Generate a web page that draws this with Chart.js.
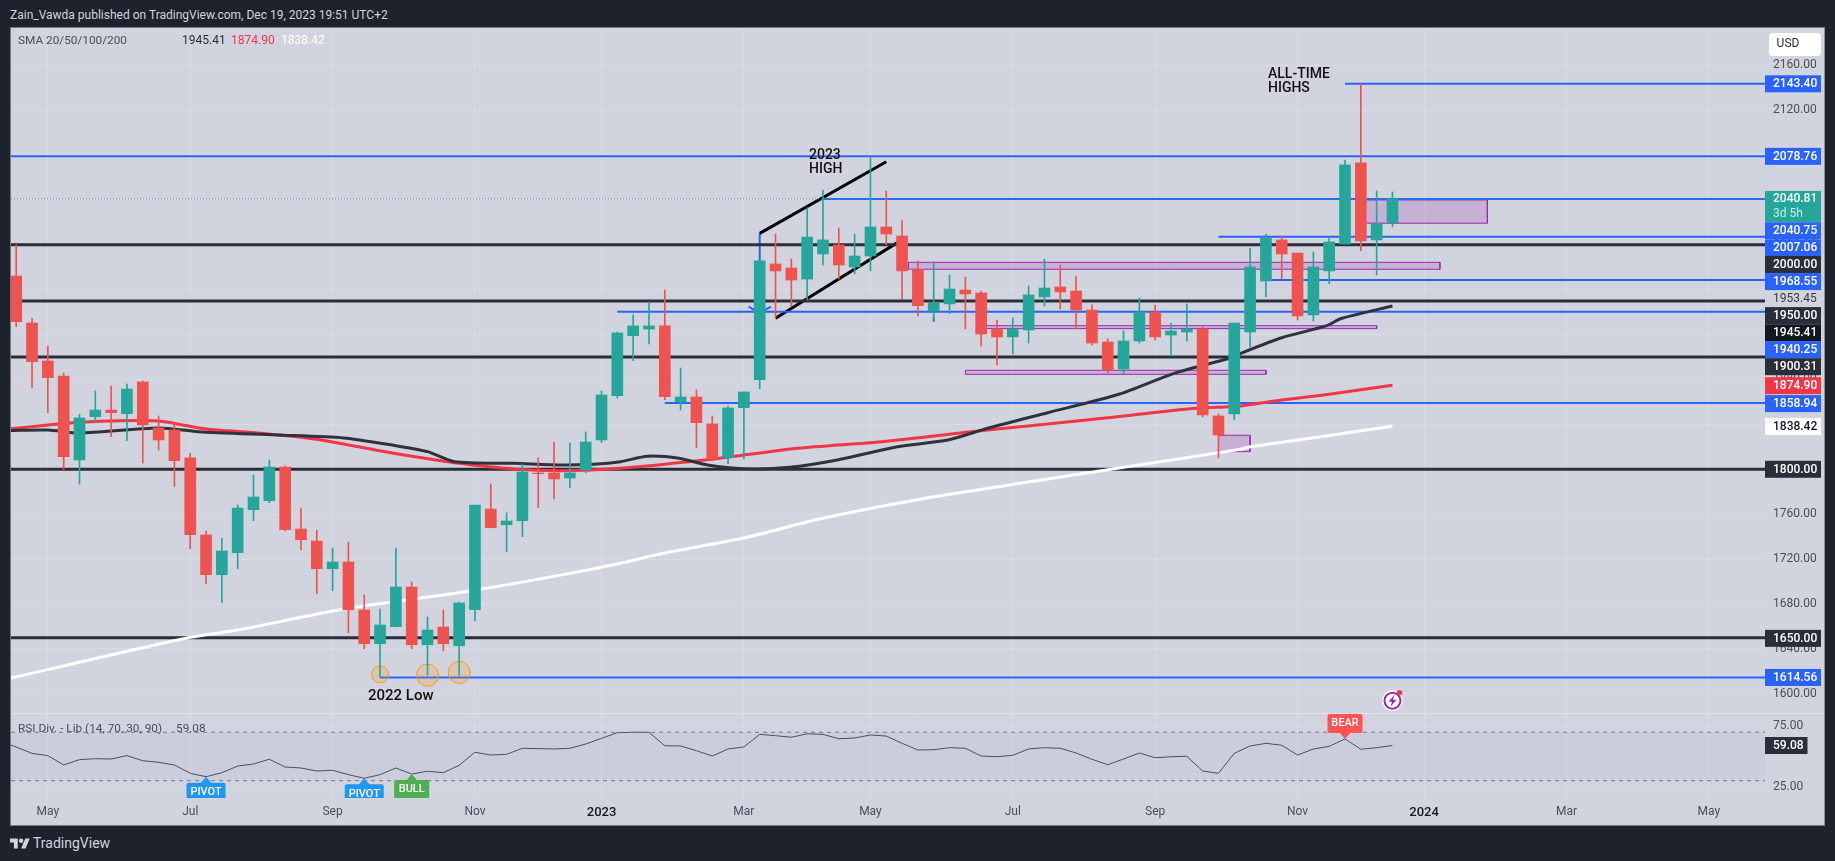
<!DOCTYPE html>
<html>
<head>
<meta charset="utf-8">
<title>Gold weekly</title>
<script src="https://cdn.jsdelivr.net/npm/chart.js@4/dist/chart.umd.js"></script>
<style>
  html, body { margin: 0; padding: 0; width: 1835px; height: 861px; overflow: hidden; background: #1e222d; }
  body { font-family: Roboto, sans-serif; color: #d1d4dc; }
  #title { position: absolute; left: 10px; top: 7px; font-size: 12px; line-height: 16px; white-space: nowrap; }
  #pane { position: absolute; left: 10px; top: 27px; width: 1815px; height: 799px; box-sizing: border-box; border: 1px solid #757883; border-right-color: #8a8d98; background: #d1d4de; }
  #mainChart { position: absolute; left: 0; top: 0; }
  #rsiChart { position: absolute; left: 0; top: 685px; }
  #logo { position: absolute; left: 10px; top: 834px; height: 18px; display: flex; align-items: center; font-size: 14px; }
  #logo svg { width: 20px; height: 15px; margin-right: 3px; fill: #d1d4dc; }
</style>
</head>
<body>
<div id="title">Zain_Vawda published on TradingView.com, Dec 19, 2023 19:51 UTC+2</div>
<div id="pane">
  <canvas id="mainChart" width="1813" height="685"></canvas>
  <canvas id="rsiChart" width="1813" height="112"></canvas>
</div>
<div id="logo"><svg viewBox="0 0 36 26"><path d="M14 22H7V11H0V4h14v18zM28 22h-8l7.5-18h8L28 22z"></path><circle cx="20" cy="8" r="4"></circle></svg>TradingView</div>

<script>
// --- WEEKLY CANDLES ---
const opens = [1972.2,1930.3,1896.5,1883.1,1808.3,1846.9,1852.8,1849.5,1877.8,1836.8,
  1835,1810.1,1741.5,1706.1,1725.7,1764,1772,1802,1746.8,1736.1,
  1711.4,1717.4,1674.7,1644.6,1659.8,1695.1,1643.7,1659.5,1642.8,1674.9,
  1764.6,1750.6,1754.2,1796.7,1796.7,1792.2,1799.6,1826.1,1865.6,1919,
  1925,1927.7,1860,1864.4,1840.4,1810.3,1854.9,1879.8,1982.9,1979.3,
  1969.5,1991.8,1999.8,1980.2,1990,2015.9,2007.8,1977.6,1941,1947.3,
  1959.7,1957.1,1925,1917.9,1924.1,1953.5,1962.4,1958.8,1941.9,1913.4,
  1889.4,1914.3,1940.1,1919.6,1922.3,1925,1847.5,1849.3,1922.3,1967.8,
  2004.3,1992.7,1937.5,1976.7,2000.7,2072.9,2004.3,2019.4];
const closes = [1931.5,1895.9,1881.6,1811.2,1845.7,1852.8,1850.4,1871.5,1839.5,1826.1,
  1807.7,1741.7,1706.1,1727.2,1765.5,1775.3,1802,1746.2,1737.3,1711.4,
  1717.4,1674.9,1644.6,1661.3,1695.1,1643.7,1656.8,1644.6,1680.9,1768.2,
  1748,1753.9,1797.6,1796.1,1791.4,1796.7,1824.3,1866.2,1921.4,1927.7,
  1927.7,1864.7,1864.4,1841.5,1809.2,1854.6,1868.9,1985.6,1976.7,1968.6,
  2006.9,2004.3,1982,1990,2015.9,2009.6,1976.7,1945.7,1948.2,1960.6,
  1956.2,1920.5,1917.9,1925,1955.3,1961.5,1958,1941.9,1912.5,1888.5,
  1914.3,1940.1,1917.9,1923.2,1925,1848.4,1830.6,1930.3,1980.2,2006,
  1991.8,1936.6,1980.2,2002.5,2071.1,2003.4,2018.5,2040.81];
const highs = [1999.8,1934.5,1909.8,1885.8,1849,1869.8,1874.2,1876,1878.7,1847.5,
  1841,1814.3,1745,1738.5,1768.2,1794.9,1808.3,1803,1765.5,1745.9,
  1729.9,1735,1688,1675.5,1729.9,1699.6,1668.4,1674.7,1681.8,1768.2,
  1786.9,1761.1,1804.7,1810.1,1824.3,1823.4,1833.2,1869.8,1922.3,1937.5,
  1949,1959.7,1890.2,1870.6,1847.5,1856.4,1868.9,1985.6,2009.6,1987.3,
  2032.8,2048.8,2015,2009.6,2078.5,2047.9,2022.1,1985.6,1983.8,1973.1,
  1971.3,1958.8,1933,1934.8,1963.3,1987.3,1982,1972.2,1946.4,1916.1,
  1923.2,1952.6,1946.4,1930.3,1947.3,1926.8,1849.3,1930.3,1996.9,2009.6,
  2007.8,1992.7,1993.6,2006.9,2075.5,2143.4,2047.9,2047];
const lows = [1927,1872.7,1850.4,1800,1786.9,1841.2,1829,1825.5,1805.6,1817.2,
  1784.5,1729.3,1698.1,1681.2,1711.4,1754.2,1770.2,1745,1728.1,1689.2,
  1691.8,1654.4,1640.2,1614.6,1659.5,1640.2,1616.7,1638.4,1616.7,1665.1,
  1747.7,1726.6,1740,1765.8,1773.5,1783.6,1797,1823.7,1863.5,1896.7,
  1911.6,1862,1852.8,1819,1807.7,1805,1809.2,1871.8,1934.8,1944.9,
  1950.8,1982,1969.5,1974,1976.7,1999.8,1951.7,1936.6,1931.5,1938.6,
  1925,1909.8,1892.9,1902.7,1912.5,1945.5,1942.8,1925,1910.7,1884.9,
  1884.9,1912.5,1915.2,1900.9,1914.3,1846.6,1810.1,1843.9,1909,1953.5,
  1969.5,1933,1932.1,1965.3,2000.7,1994.7,1973.1,2015.9];

// --- MOVING AVERAGES (bar number, price) ---
const sma50Bars = [-0.4,2,4,9,11.5,16.5,20.7,24,26,27.7,31.5,34.5,36.5,38.2,39.9,41.9,43.7,46,48.9,51.9,55.7,58.9,61.4,65.2,69.7,73.2,76.7,77.4,80,82.8,83.8,87];
const sma50Vals = [1834.6,1835,1832.3,1836.8,1833.5,1830.6,1827.9,1821,1815.7,1806.8,1805.3,1803.8,1804.5,1806.8,1811.6,1809.8,1803.8,1800.5,1801.8,1808.3,1820.1,1826.1,1836.5,1850.4,1866.8,1885.5,1898.9,1903.3,1917.2,1927.7,1934.5,1945.41];
const sma100Bars = [-0.4,2,4,6.5,9,10.2,12,15.5,19,22.7,25.2,27.7,31.5,34.5,38.2,44.2,49.4,54.7,61.4,68.7,73.9,76.7,77.4,80,83,87];
const sma100Vals = [1835.9,1839.5,1841.9,1843.3,1843,1840.4,1835.9,1832.1,1826.7,1817.2,1811.2,1805.9,1800.3,1798.8,1800.9,1809.4,1818.7,1824.6,1835,1845.4,1853.5,1855.8,1856.4,1861.7,1866.8,1874.9];
const sma200Bars = [-0.4,11,14,20.7,28.7,35,38.2,40.9,45.9,50.7,56.9,69.2,77.4,78,82.8,87];
const sma200Vals = [1613.8,1650.3,1656.8,1675.5,1691.6,1707.3,1716.3,1725.2,1738.5,1755.5,1772.7,1800,1817.8,1820.1,1829.7,1838.42];

// --- RSI, one value per bar, first one is bar 0 ---
const rsiVals = [59.5,52.6,50.7,43,47.4,48.2,47.9,50.7,46.5,45.2,43,
  36.1,33.3,36.6,42.1,43.8,47.7,41.3,40.5,38,38.6,
  35,32,35,40.5,35.5,37.8,36.6,42.7,53.5,51.2,
  51.8,56.8,56.5,56.2,56.8,60.3,65,69.7,70,70,
  58.9,58.7,54.8,50.4,56.2,57.9,68.3,67.2,65.9,68.8,
  68.3,64.7,65.3,67.8,66.9,60.9,55.4,55.6,57.3,56.8,
  50.4,49.8,51,56.2,57.3,56.8,52.9,47.7,43.2,47.9,
  52.9,49,49.8,50.2,38,36.1,52.6,58.7,60.9,59.3,
  51.2,56.2,58.4,64.5,56,57.3,59.08];

// --- LEVELS AND DRAWINGS ---
const blackLevels = [2000, 1950, 1900, 1800, 1650];
const blueLevels = [2078.76, 2143.4, 2040.75, 2007.06, 1968.55, 1940.25, 1858.94, 1614.56];
const blueStarts = [-1, 84, 51, 76, 79, 38, 41, 23];
const lastPrice = 2040.81;
const purpleBoxes = [[85, 93, 2039.9, 2019.2], [56.4, 90, 1984.4, 1978.2], [61.3, 86, 1927.9, 1925.3], [60, 79, 1888.2, 1884.6], [76, 78, 1830.3, 1815.7]];
const trendLines = [[47, 2010.2, 55, 2074], [48, 1934.5, 55.7, 2001.9]];
const lowBars = [23, 26, 28];
const lowPrices = [1617.3, 1616.5, 1619.1];

// --- AXES ---
const monthBars = [2, 11, 20, 29, 37, 46, 54, 63, 72, 81, 89, 98, 107];
const monthNames = ['May', 'Jul', 'Sep', 'Nov', '2023', 'Mar', 'May', 'Jul', 'Sep', 'Nov', '2024', 'Mar', 'May'];
const priceTicks = [2160, 2120, 2080, 2040, 2000, 1960, 1920, 1880, 1840, 1800, 1760, 1720, 1680, 1640, 1600];
const rsiTicks = [75, 25];

const GREEN = '#26a69a', RED = '#ef5350', BLUE = '#2962ff', DARK = '#2a2e39';
const X_MIN = -0.33, X_MAX = 110.55;
const FONT = 'Roboto, sans-serif';

function seg(x0, y0, x1, y1, color, width, dash) {
  return { type: 'line', data: [{ x: x0, y: y0 }, { x: x1, y: y1 }], borderColor: color, borderWidth: width, borderDash: dash || [], pointRadius: 0, order: 5 };
}
function sma(bars, vals, color) {
  return { type: 'line', data: bars.map((b, i) => ({ x: b, y: vals[i] })), borderColor: color, borderWidth: 3, pointRadius: 0, tension: 0.25, order: 4 };
}
// tick labels must not eat into the plot area
function fixY(s) { s.width = 59; s.paddingTop = 0; s.paddingBottom = 0; }
function fixX(h) { return s => { s.height = h; s.paddingLeft = 0; s.paddingRight = 0; }; }

const candleColors = closes.map((c, i) => c >= opens[i] ? GREEN : RED);
const datasets = [
  { type: 'bar', data: closes.map((c, i) => ({ x: i, y: [opens[i], c] })), backgroundColor: candleColors, barThickness: 11, borderSkipped: false, grouped: false, order: 1 },
  { type: 'bar', data: highs.map((h, i) => ({ x: i, y: [lows[i], h] })), backgroundColor: candleColors, barThickness: 1, borderSkipped: false, grouped: false, order: 2 },
  sma(sma50Bars, sma50Vals, '#2f323d'),
  sma(sma100Bars, sma100Vals, '#f23645'),
  sma(sma200Bars, sma200Vals, '#ffffff'),
  seg(X_MIN, lastPrice, X_MAX, lastPrice, GREEN, 1, [1, 2])
];
blackLevels.forEach(v => datasets.push(seg(X_MIN, v, X_MAX, v, DARK, 3)));
blueLevels.forEach((v, i) => datasets.push(seg(blueStarts[i], v, X_MAX, v, BLUE, 2)));
trendLines.forEach(t => datasets.push(seg(t[0], t[1], t[2], t[3], '#000000', 3)));
datasets.push(seg(47, 2010.2, 47, 1985.6, BLUE, 2));
datasets.push({ type: 'line', data: [{ x: 46.3, y: 1944.9 }, { x: 47, y: 1939.2 }, { x: 47.7, y: 1944.9 }], borderColor: BLUE, borderWidth: 2, pointRadius: 0, order: 5 });
datasets.push(seg(58, 1936, 58, 1931.5, BLUE, 2));
purpleBoxes.forEach(b => {
  // filled band between two lines, then the outline
  datasets.push({ type: 'line', data: [{ x: b[0], y: b[2] }, { x: b[1], y: b[2] }], borderWidth: 0, pointRadius: 0, backgroundColor: 'rgba(156,39,176,0.2)', fill: '+1', order: 6 });
  datasets.push({ type: 'line', data: [{ x: b[0], y: b[3] }, { x: b[1], y: b[3] }], borderWidth: 0, pointRadius: 0, order: 6 });
  datasets.push({ type: 'line', data: [{ x: b[0], y: b[2] }, { x: b[1], y: b[2] }, { x: b[1], y: b[3] }, { x: b[0], y: b[3] }, { x: b[0], y: b[2] }], borderColor: '#9c27b0', borderWidth: 1, pointRadius: 0, order: 6 });
});
datasets.push({
  type: 'scatter', data: lowBars.map((b, i) => ({ x: b, y: lowPrices[i] })), showLine: false,
  pointRadius: [8.5, 11, 11], pointBackgroundColor: 'rgba(255,152,0,0.2)', pointBorderColor: '#ff9800', pointBorderWidth: 1, order: 3
});

// price tags on the axis: text, price, shift when stacked, background, text colour
const priceTags = [
  ['2143.40', 2143.4, 0, BLUE, '#fff'], ['2078.76', 2078.76, 0, BLUE, '#fff'],
  ['2040.75', 2040.75, 31.7, BLUE, '#fff'], ['2007.06', 2007.06, 11, BLUE, '#fff'],
  ['2000.00', 2000, 19.7, DARK, '#fff'], ['1968.55', 1968.55, 1.5, BLUE, '#fff'],
  ['1950.00', 1950, 14.7, DARK, '#fff'], ['1945.41', 1945.41, 26.7, '#131722', '#fff'],
  ['1940.25', 1940.25, 37.8, BLUE, '#fff'], ['1900.31', 1900.31, 10, DARK, '#fff'],
  ['1874.90', 1874.9, 0.5, '#f23645', '#fff'], ['1858.94', 1858.94, 0.5, BLUE, '#fff'],
  ['1838.42', 1838.42, 0.3, '#ffffff', '#131722'], ['1800.00', 1800, 0, DARK, '#fff'],
  ['1650.00', 1650, 0.7, DARK, '#fff'], ['1614.56', 1614.56, 0, BLUE, '#fff']
];

function drawText(ctx, text, x, y, font, color, align) {
  ctx.font = font;
  ctx.fillStyle = color;
  ctx.textAlign = align || 'left';
  ctx.textBaseline = 'middle';
  ctx.fillText(text, x, y);
}

const mainLabels = {
  id: 'mainLabels',
  afterDraw(chart) {
    const ctx = chart.ctx, xs = chart.scales.x, ys = chart.scales.y;
    const right = chart.chartArea.right;
    ctx.save();

    // legend line
    drawText(ctx, 'SMA 20/50/100/200', 7, 13, '11.8px ' + FONT, '#4a4e5a');
    drawText(ctx, '1945.41', 171, 13, '12px ' + FONT, DARK);
    drawText(ctx, '1874.90', 220, 13, '12px ' + FONT, '#f23645');
    drawText(ctx, '1838.42', 270, 13, '12px ' + FONT, '#ffffff');

    // notes on the chart
    const note = '500 14px ' + FONT;
    drawText(ctx, '2023', 798, 127, note, '#111');
    drawText(ctx, 'HIGH', 798, 141, note, '#111');
    drawText(ctx, 'ALL-TIME', 1257, 46, note, '#111');
    drawText(ctx, 'HIGHS', 1257, 60, note, '#111');
    drawText(ctx, '2022 Low', 357, 668, '500 15px ' + FONT, '#111');

    // USD box
    ctx.fillStyle = '#ffffff';
    ctx.beginPath();
    ctx.roundRect(right + 4, 5, 52, 23, 4);
    ctx.fill();
    drawText(ctx, 'USD', right + 23, 16, '12px ' + FONT, '#2a2e39', 'center');

    // plain value on the axis, it hides the 1960.00 tick behind it
    const plainY = ys.getPixelForValue(1953.45) + 1.5;
    ctx.fillStyle = '#d1d4de';
    ctx.fillRect(right, plainY - 11, 56, 20);
    drawText(ctx, '1953.45', right + 8, plainY, '12px ' + FONT, '#363a45');

    // last price box
    const lastY = ys.getPixelForValue(lastPrice);
    ctx.fillStyle = GREEN;
    ctx.fillRect(right, lastY - 8, 56, 31);
    drawText(ctx, '2040.81', right + 8, lastY + 0.5, '500 12px ' + FONT, '#ffffff');
    drawText(ctx, '3d 5h', right + 8, lastY + 15, '12px ' + FONT, '#c8ece8');

    priceTags.forEach(t => {
      const y = ys.getPixelForValue(t[1]) + t[2];
      ctx.fillStyle = t[3];
      ctx.fillRect(right, y - 8.5, 56, 17);
      drawText(ctx, t[0], right + 8, y + 0.5, '500 12px ' + FONT, t[4]);
    });

    // alert icon
    const ix = xs.getPixelForValue(87), iy = 672.7;
    ctx.fillStyle = '#ffffff';
    ctx.beginPath(); ctx.arc(ix, iy, 10.5, 0, Math.PI * 2); ctx.fill();
    ctx.strokeStyle = '#9c27b0'; ctx.lineWidth = 2;
    ctx.beginPath(); ctx.arc(ix, iy, 8, 0, Math.PI * 2); ctx.stroke();
    ctx.fillStyle = '#9c27b0';
    ctx.beginPath();
    ctx.moveTo(ix + 2, iy - 6); ctx.lineTo(ix - 4, iy + 1); ctx.lineTo(ix - 0.5, iy + 1);
    ctx.lineTo(ix - 2, iy + 6); ctx.lineTo(ix + 4, iy - 1); ctx.lineTo(ix + 0.5, iy - 1);
    ctx.closePath(); ctx.fill();
    ctx.fillStyle = '#f23645';
    ctx.beginPath(); ctx.arc(ix + 7, iy - 8, 2.6, 0, Math.PI * 2); ctx.fill();

    ctx.restore();
  }
};

new Chart(document.getElementById('mainChart').getContext('2d'), {
  type: 'bar',
  data: { datasets },
  options: {
    responsive: false,
    animation: false,
    layout: { padding: 0, autoPadding: false },
    plugins: { legend: { display: false }, tooltip: { enabled: false } },
    scales: {
      x: {
        type: 'linear', min: X_MIN, max: X_MAX, offset: false,
        afterBuildTicks: s => { s.ticks = monthBars.map(v => ({ value: v })); },
        afterFit: fixX(0),
        grid: { color: 'rgba(255,255,255,0.16)', offset: false, drawTicks: false },
        border: { display: false },
        ticks: { display: false }
      },
      y: {
        position: 'right', min: 1582.9, max: 2193.1,
        afterBuildTicks: s => { s.ticks = priceTicks.map(v => ({ value: v })); },
        afterFit: fixY,
        grid: { color: 'rgba(255,255,255,0.16)', drawTicks: false },
        border: { display: false },
        ticks: {
          padding: 8, color: '#4a4e5a', font: { family: FONT, size: 12 },
          callback: v => v.toFixed(2)
        }
      }
    }
  },
  plugins: [mainLabels]
});

// --- RSI PANE ---
function rsiFlag(ctx, xs, ys, bar, text, color, above, w) {
  const x = xs.getPixelForValue(bar), tip = ys.getPixelForValue(rsiVals[bar]);
  const boxTop = above ? tip - 25 : tip + 6;
  const boxH = 19;
  ctx.fillStyle = color;
  ctx.beginPath();
  ctx.roundRect(x - w / 2, boxTop, w, boxH + (above ? 0 : 4), 2);
  ctx.fill();
  ctx.beginPath();
  if (above) {
    ctx.moveTo(x - 6, boxTop + boxH - 1); ctx.lineTo(x, tip); ctx.lineTo(x + 6, boxTop + boxH - 1);
  } else {
    ctx.moveTo(x - 6, boxTop + 1); ctx.lineTo(x, tip); ctx.lineTo(x + 6, boxTop + 1);
  }
  ctx.closePath(); ctx.fill();
  drawText(ctx, text, x, boxTop + 9.5, '500 11px ' + FONT, '#ffffff', 'center');
}

const rsiLabels = {
  id: 'rsiLabels',
  afterDraw(chart) {
    const ctx = chart.ctx, xs = chart.scales.x, ys = chart.scales.y, area = chart.chartArea;
    ctx.save();
    ctx.strokeStyle = '#e3e5ec'; ctx.lineWidth = 1;
    ctx.beginPath(); ctx.moveTo(0, 0.5); ctx.lineTo(area.right + 59, 0.5); ctx.stroke();

    ctx.save();
    ctx.beginPath(); ctx.rect(0, 0, area.right, area.bottom); ctx.clip();
    rsiFlag(ctx, xs, ys, 12, 'PIVOT', '#2196f3', false, 39);
    rsiFlag(ctx, xs, ys, 22, 'PIVOT', '#2196f3', false, 39);
    rsiFlag(ctx, xs, ys, 25, 'BULL', '#4caf50', false, 35);
    rsiFlag(ctx, xs, ys, 84, 'BEAR', '#ff5252', true, 35);
    ctx.restore();

    drawText(ctx, 'RSI Div. - Lib (14, 70, 30, 90)', 7, 16, '11.8px ' + FONT, '#4a4e5a');
    drawText(ctx, '59.08', 165, 16, '11.8px ' + FONT, '#4a4e5a');

    const y = ys.getPixelForValue(59.08);
    ctx.fillStyle = DARK;
    ctx.fillRect(area.right, y - 8.5, 42.5, 17);
    drawText(ctx, '59.08', area.right + 8, y + 0.5, '500 12px ' + FONT, '#ffffff');
    ctx.restore();
  }
};

const isYear = ctx => ctx.index !== undefined && String(monthNames[ctx.index]).startsWith('20');

new Chart(document.getElementById('rsiChart').getContext('2d'), {
  type: 'line',
  data: {
    datasets: [
      { data: [{ x: X_MIN, y: 70 }, { x: X_MAX, y: 70 }], borderColor: '#787b86', borderWidth: 1, borderDash: [4, 4], pointRadius: 0, backgroundColor: 'rgba(126,87,194,0.05)', fill: '+1' },
      { data: [{ x: X_MIN, y: 30 }, { x: X_MAX, y: 30 }], borderColor: '#787b86', borderWidth: 1, borderDash: [4, 4], pointRadius: 0 },
      { data: rsiVals.map((v, i) => ({ x: i === 0 ? X_MIN : i, y: v })), borderColor: '#4a4e5a', borderWidth: 1, pointRadius: 0 }
    ]
  },
  options: {
    responsive: false,
    animation: false,
    layout: { padding: 0, autoPadding: false },
    plugins: { legend: { display: false }, tooltip: { enabled: false } },
    scales: {
      x: {
        type: 'linear', min: X_MIN, max: X_MAX,
        afterBuildTicks: s => { s.ticks = monthBars.map(v => ({ value: v })); },
        afterFit: fixX(27),
        grid: { color: 'rgba(255,255,255,0.16)', drawTicks: false },
        border: { display: false },
        ticks: {
          maxRotation: 0, autoSkip: false, padding: 7,
          color: ctx => isYear(ctx) ? '#131722' : '#4a4e5a',
          font: ctx => ({ family: FONT, size: isYear(ctx) ? 13 : 12, weight: isYear(ctx) ? '500' : '400' }),
          callback: (v, i) => monthNames[i]
        }
      },
      y: {
        position: 'right', min: 15.7, max: 85.95,
        afterBuildTicks: s => { s.ticks = rsiTicks.map(v => ({ value: v })); },
        afterFit: fixY,
        grid: { color: 'rgba(255,255,255,0.16)', drawTicks: false },
        border: { display: false },
        ticks: { padding: 8, color: '#4a4e5a', font: { family: FONT, size: 12 }, callback: v => v.toFixed(2) }
      }
    }
  },
  plugins: [rsiLabels]
});
</script>
</body>
</html>
